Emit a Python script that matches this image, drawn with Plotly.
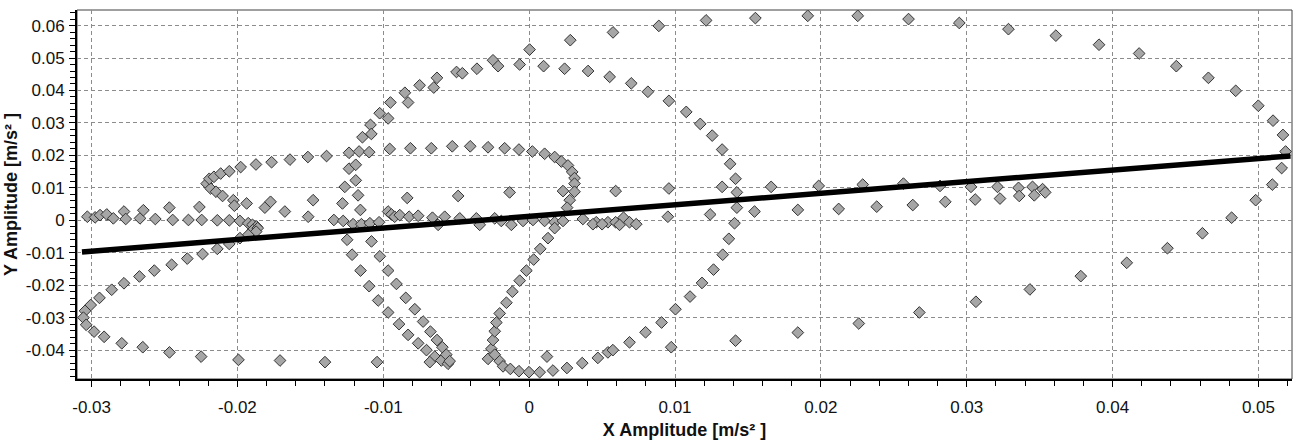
import numpy as np
import plotly.graph_objects as go

# Orbit samples: X / Y vibration amplitude [m/s²]
x_amp = [
    # left row near zero
    -0.03029, -0.02976, -0.02942, -0.02896, -0.02851, -0.02778, -0.02766, -0.02668, -0.02645, -0.02563,
    -0.02467, -0.02444, -0.02336, -0.02261, -0.02245, -0.02138, -0.02056, -0.02028, -0.02021, -0.01983,
    -0.01937, -0.01926, -0.01897, -0.01869, -0.01812, -0.01773, -0.01675, -0.01515, -0.01481,
    # upper-left hook
    -0.02211, -0.02184, -0.02147, -0.02102, -0.02193, -0.02161, -0.02115, -0.02056, -0.01978, -0.01873,
    -0.01766, -0.01640, -0.01517, -0.01389,
    # curl and lower-left arc
    -0.01895, -0.01861, -0.01872, -0.01926, -0.01983, -0.02056, -0.02138, -0.02239, -0.02344, -0.02451,
    -0.02570, -0.02672, -0.02778, -0.02862, -0.02946, -0.03006, -0.03045, -0.03056, -0.03037, -0.02983,
    -0.02914, -0.02793, -0.02649, -0.02466, -0.02249, -0.01993, -0.01708, -0.01400,
    # central S and upper loops
    -0.01280, -0.01264, -0.01235, -0.01235, -0.01189, -0.01189, -0.01173, -0.01166, -0.01157, -0.01143,
    -0.01097, -0.01088, -0.01082, -0.01025, -0.00967, -0.00956, -0.00951, -0.00852, -0.00836, -0.00830,
    -0.00814, -0.00751, -0.00671, -0.00654, -0.00632, -0.00527, -0.00498, -0.00487, -0.00458, -0.00404,
    -0.00358, -0.00282, -0.00248, -0.00213, -0.00168, -0.00134, -0.00070, -0.00065, 0.00003, 0.00022,
    0.00099, 0.00106, 0.00175, 0.00221, 0.00243, 0.00266, 0.00282, 0.00295, 0.00311, 0.00311,
    0.00311, 0.00232, 0.00278, 0.00260, 0.00404, 0.00552, 0.00575, 0.00593, 0.00700, 0.00814,
    # central row near zero
    -0.01339, -0.01275, -0.01207, -0.01150, -0.01092, -0.01029, -0.00967, -0.00944, -0.00922, -0.00887,
    -0.00823, -0.00761, -0.00663, -0.00579, -0.00476, -0.00362, -0.00236, -0.00191, -0.00042, 0.00026,
    0.00106, 0.00175, 0.00232, 0.00368, 0.00460, 0.00540, 0.00593, 0.00647, 0.00688, 0.00734,
    -0.00624, -0.00339, -0.00122, 0.00437, 0.00500, 0.00620,
    # twin diagonals falling to the bottom
    -0.01248, -0.01214, -0.01156, -0.01097, -0.01035, -0.00967, -0.00892, -0.00830, -0.00761, -0.00704,
    -0.00647, -0.00602, -0.00556,
    -0.01081, -0.01024, -0.00967, -0.00910, -0.00846, -0.00784, -0.00727, -0.00677, -0.00632, -0.00595,
    -0.00568, -0.00545, -0.00681, -0.01043,
    # V shape and bottom arc
    -0.00282, -0.00259, -0.00248, -0.00236, -0.00225, -0.00202, -0.00156, -0.00115, -0.00065, -0.00019,
    0.00031, 0.00076, 0.00129, 0.00175, -0.00236, -0.00202, -0.00179, -0.00129, -0.00070, -0.00001,
    0.00072, 0.00163, 0.00259, 0.00364, 0.00471, 0.00540, 0.00574, 0.00688, 0.00798, 0.00122,
    # inner loop right flank
    0.00958, 0.01077, 0.01173, 0.01255, 0.01323, 0.01378, 0.01415, 0.01424, 0.01424, 0.01408,
    0.01369, 0.01327, 0.01264, 0.01185, 0.01103, 0.01003, 0.00908,
    # outer loop lower branch
    0.00974, 0.01415, 0.01842, 0.02260, 0.02675, 0.03063, 0.03433, 0.03782, 0.04097, 0.04376,
    0.04616, 0.04816,
    # outer loop upper branch
    0.00889, 0.01213, 0.01551, 0.01910, 0.02253, 0.02601, 0.02949, 0.03286, 0.03611, 0.03907,
    0.04182, 0.04437, 0.04657, 0.04844, 0.04999, 0.05100, 0.05168, 0.05186, 0.05159, 0.05095,
    0.04981,
    # paired middle band
    0.00958, 0.00951, 0.01323, 0.01241, 0.01545, 0.01659, 0.01842, 0.01985, 0.02122, 0.02287,
    0.02383, 0.02566, 0.02630, 0.02817, 0.02853, 0.03029, 0.03058, 0.03211, 0.03228, 0.03355,
    0.03360, 0.03451, 0.03463, 0.03520, 0.03538,
]

y_amp = [
    # left row near zero
    0.0011, 0.0009, 0.0016, 0.0018, 0.0006, 0.0027, 0.0004, 0.0006, 0.0031, 0.0004,
    0.0039, 0.0001, 0.0001, 0.0041, 0.0001, 0.0000, 0.0000, 0.0062, 0.0045, -0.0002,
    0.0052, -0.0009, -0.0014, -0.0019, 0.0039, 0.0057, 0.0027, 0.0011, 0.0062,
    # upper-left hook
    0.0113, 0.0098, 0.0088, 0.0075, 0.0128, 0.0134, 0.0144, 0.0151, 0.0164, 0.0172,
    0.0179, 0.0187, 0.0195, 0.0198,
    # curl and lower-left arc
    -0.0030, -0.0024, -0.0035, -0.0045, -0.0055, -0.0073, -0.0088, -0.0104, -0.0118, -0.0137,
    -0.0155, -0.0173, -0.0194, -0.0214, -0.0239, -0.0261, -0.0279, -0.0300, -0.0322, -0.0343,
    -0.0359, -0.0379, -0.0391, -0.0407, -0.0420, -0.0430, -0.0432, -0.0437,
    # central S and upper loops
    0.0052, 0.0103, 0.0159, 0.0208, 0.0171, 0.0123, 0.0077, 0.0212, 0.0032, 0.0256,
    0.0210, 0.0294, 0.0266, 0.0330, 0.0314, 0.0220, 0.0363, 0.0393, 0.0069, 0.0363,
    0.0222, 0.0416, 0.0222, 0.0409, 0.0439, 0.0228, 0.0457, 0.0075, 0.0453, 0.0228,
    0.0467, 0.0225, 0.0493, 0.0475, 0.0222, 0.0086, 0.0218, 0.0480, 0.0526, 0.0212,
    0.0475, 0.0205, 0.0195, 0.0181, 0.0467, 0.0169, 0.0555, 0.0149, 0.0130, 0.0113,
    0.0088, 0.0090, 0.0062, 0.0039, 0.0460, 0.0442, 0.0579, 0.0090, 0.0422, 0.0396,
    # central row near zero
    0.0001, -0.0002, -0.0012, -0.0012, -0.0009, -0.0006, 0.0027, 0.0018, 0.0011, 0.0016,
    0.0011, 0.0014, 0.0008, 0.0011, 0.0006, 0.0006, 0.0006, -0.0002, -0.0002, 0.0001,
    -0.0002, -0.0006, -0.0002, 0.0004, -0.0006, -0.0006, -0.0006, 0.0008, -0.0006, -0.0012,
    -0.0014, -0.0014, -0.0014, -0.0012, -0.0012, -0.0014,
    # twin diagonals falling to the bottom
    -0.0060, -0.0106, -0.0155, -0.0203, -0.0247, -0.0284, -0.0320, -0.0353, -0.0379, -0.0400,
    -0.0420, -0.0432, -0.0442,
    -0.0065, -0.0111, -0.0155, -0.0196, -0.0239, -0.0274, -0.0312, -0.0343, -0.0369, -0.0391,
    -0.0414, -0.0434, -0.0437, -0.0437,
    # V shape and bottom arc
    -0.0427, -0.0396, -0.0369, -0.0342, -0.0315, -0.0287, -0.0254, -0.0220, -0.0186, -0.0155,
    -0.0121, -0.0088, -0.0055, -0.0024, -0.0414, -0.0434, -0.0450, -0.0458, -0.0465, -0.0468,
    -0.0468, -0.0463, -0.0455, -0.0440, -0.0424, -0.0407, -0.0400, -0.0376, -0.0345, -0.0420,
    # inner loop right flank
    0.0368, 0.0334, 0.0297, 0.0261, 0.0218, 0.0174, 0.0128, 0.0086, 0.0039, -0.0009,
    -0.0057, -0.0106, -0.0152, -0.0193, -0.0235, -0.0274, -0.0315,
    # outer loop lower branch
    -0.0391, -0.0371, -0.0346, -0.0318, -0.0284, -0.0251, -0.0213, -0.0172, -0.0131, -0.0086,
    -0.0040, 0.0008,
    # outer loop upper branch
    0.0599, 0.0616, 0.0623, 0.0630, 0.0630, 0.0620, 0.0608, 0.0589, 0.0569, 0.0541,
    0.0514, 0.0475, 0.0439, 0.0399, 0.0353, 0.0307, 0.0263, 0.0212, 0.0161, 0.0110,
    0.0062,
    # paired middle band
    0.0098, 0.0011, 0.0103, 0.0018, 0.0027, 0.0103, 0.0032, 0.0106, 0.0035, 0.0110,
    0.0042, 0.0113, 0.0047, 0.0106, 0.0057, 0.0103, 0.0064, 0.0103, 0.0067, 0.0100,
    0.0075, 0.0103, 0.0077, 0.0096, 0.0086,
]

# Linear trend through the orbit
fit_slope = 0.357
fit_intercept = 0.0012

x_ticks = [-0.03, -0.02, -0.01, 0.0, 0.01, 0.02, 0.03, 0.04, 0.05]
x_tick_labels = ["-0.03", "-0.02", "-0.01", "0", "0.01", "0.02", "0.03", "0.04", "0.05"]
y_ticks = [-0.04, -0.03, -0.02, -0.01, 0.0, 0.01, 0.02, 0.03, 0.04, 0.05, 0.06]
y_tick_labels = ["-0.04", "-0.03", "-0.02", "-0.01", "0", "0.01", "0.02", "0.03", "0.04", "0.05", "0.06"]

x_range = [-0.0310, 0.0523]
y_range = [-0.0489, 0.0648]

fit_x = np.array([min(x_amp) - 0.0001, x_range[1] - 0.0001])
fit_y = fit_slope * fit_x + fit_intercept

fig = go.Figure()
fig.add_trace(go.Scatter(
    x=x_amp, y=y_amp, mode="markers",
    marker=dict(symbol="diamond", size=9, color="#a6a6a6",
                line=dict(color="#333333", width=1)),
    showlegend=False, hoverinfo="skip",
))
fig.add_trace(go.Scatter(
    x=fit_x, y=fit_y, mode="lines",
    line=dict(color="black", width=5.5),
    showlegend=False, hoverinfo="skip",
))

tick_font = dict(family="Liberation Sans, Arial, sans-serif", size=17, color="#111111")
title_font = dict(family="Liberation Sans, Arial, sans-serif", size=18, color="#111111", weight="bold")
grid = dict(showgrid=True, gridcolor="#8c8c8c", gridwidth=1, griddash="4px,3px")

fig.update_xaxes(
    range=x_range, tickvals=x_ticks, ticktext=x_tick_labels, tickfont=tick_font,
    ticks="outside", ticklen=6, tickcolor="black", tickwidth=1, ticklabelstandoff=6,
    minor=dict(dtick=0.002, tick0=0, ticks="outside", ticklen=5, tickcolor="black", showgrid=False),
    showline=True, linecolor="black", linewidth=2, zeroline=False,
    title=dict(text="X Amplitude [m/s² ]", font=title_font, standoff=8),
    **grid,
)
fig.update_yaxes(
    range=y_range, tickvals=y_ticks, ticktext=y_tick_labels, tickfont=tick_font,
    ticks="outside", ticklen=6, tickcolor="black", tickwidth=1, ticklabelstandoff=1,
    minor=dict(dtick=0.002, tick0=0, ticks="outside", ticklen=5, tickcolor="black", showgrid=False),
    showline=True, linecolor="black", linewidth=2, zeroline=False,
    title=dict(text="Y Amplitude [m/s² ]", font=title_font, standoff=4),
    **grid,
)

# thin frame along the top and right edges
fig.add_shape(type="rect", xref="paper", yref="paper", x0=0, y0=0, x1=1, y1=1,
              line=dict(color="#404040", width=1), layer="below")

fig.update_layout(
    width=1294, height=440,
    margin=dict(l=77, r=2, t=10, b=58),
    paper_bgcolor="white", plot_bgcolor="white",
)

fig.write_html("out.html")
